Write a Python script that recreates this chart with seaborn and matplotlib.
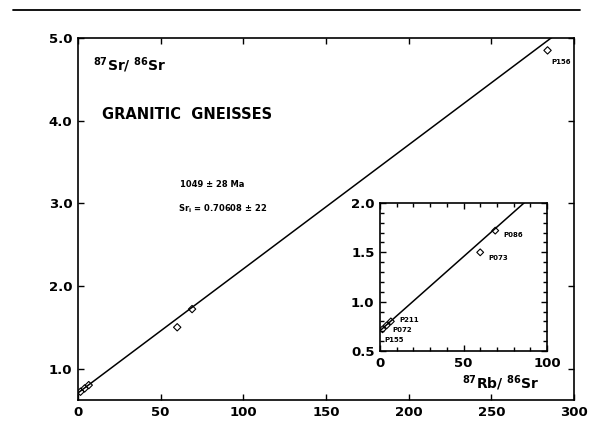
import matplotlib
matplotlib.use("Agg")
import matplotlib.pyplot as plt
import seaborn as sns
import pandas as pd
from matplotlib.lines import Line2D
from matplotlib.ticker import MultipleLocator

# ---- data ----
samples = ["P155", "P072", "P211", "P073", "P086", "P156"]
rb_sr = [1.5, 4.0, 6.5, 60.0, 69.0, 284.0]
sr_sr = [0.72, 0.76, 0.80, 1.50, 1.72, 4.85]
iso_x = [0.0, 300.0]
iso_y = [0.706, 5.208]
main_xticks = [0, 50, 100, 150, 200, 250, 300]
main_yticks = [1.0, 2.0, 3.0, 4.0, 5.0]
inset_xticks = [0, 50, 100]
inset_yticks = [0.5, 1.0, 1.5, 2.0]
main_labels = ["P156"]
inset_labels = ["P155", "P072", "P211", "P073", "P086"]
label_offsets = {"P156": (3, -8), "P086": (6, -3), "P073": (6, -4),
                 "P211": (6, 1), "P072": (4, -3), "P155": (1, -8)}

df = pd.DataFrame({"sample": samples, "rb": rb_sr, "sr": sr_sr})
line_df = pd.DataFrame({"x": iso_x, "y": iso_y})

sns.set_style("ticks")
plt.rcParams["font.family"] = ["DejaVu Sans"]
plt.rcParams["mathtext.fontset"] = "dejavusans"
plt.rcParams["text.color"] = "black"
plt.rcParams["xtick.color"] = "black"
plt.rcParams["ytick.color"] = "black"
plt.rcParams["xtick.labelcolor"] = "black"
plt.rcParams["ytick.labelcolor"] = "black"

fig = plt.figure(figsize=(5.93, 4.23), dpi=100)

# page rule at the top
fig.add_artist(Line2D([13 / 593, 580 / 593], [1 - 10 / 423, 1 - 10 / 423],
                      color="black", lw=1.3, transform=fig.transFigure))

ax = fig.add_axes([78 / 593, 23 / 423, 496 / 593, 362 / 423])
sns.lineplot(data=line_df, x="x", y="y", ax=ax, color="black", lw=1.1)
sns.scatterplot(data=df, x="rb", y="sr", ax=ax, marker="D", s=14,
                facecolor="none", edgecolor="black", linewidth=0.8)
ax.set_xlim(0, 300)
ax.set_ylim(0.62, 5.0)
ax.set_xticks(main_xticks)
ax.set_yticks(main_yticks)
ax.set_yticklabels([f"{v:.1f}" for v in main_yticks])
ax.tick_params(direction="in", length=4, width=1, top=True, right=True,
               labelsize=9.5, pad=4)
for lab in ax.get_xticklabels() + ax.get_yticklabels():
    lab.set_fontweight("bold")
for s in ax.spines.values():
    s.set_linewidth(1.2)
    s.set_color("black")
ax.set_xlabel("")
ax.set_ylabel("")

for name in main_labels:
    i = samples.index(name)
    ax.annotate(name, (rb_sr[i], sr_sr[i]), xytext=label_offsets[name],
                textcoords="offset points", fontsize=5, fontweight="bold",
                ha="left", va="center")

ax.text(0.03, 0.925, r"$^{\mathbf{87}}\mathbf{Sr/\ }^{\mathbf{86}}\mathbf{Sr}$",
        transform=ax.transAxes, fontsize=10, ha="left", va="center")
ax.text(0.048, 0.79, "GRANITIC  GNEISSES", transform=ax.transAxes,
        fontsize=10.5, fontweight="bold", ha="left", va="center")
ax.text(0.206, 0.594, "1049 ± 28 Ma", transform=ax.transAxes,
        fontsize=6, fontweight="bold", ha="left", va="center")
ax.text(0.202, 0.528, r"Sr$_\mathbf{i}$ = 0.70608 ± 22", transform=ax.transAxes,
        fontsize=6, fontweight="bold", ha="left", va="center")
fig.text(462 / 593, 1 - 383 / 423,
         r"$^{\mathbf{87}}\mathbf{Rb/\ }^{\mathbf{86}}\mathbf{Sr}$",
         fontsize=10, ha="left", va="center")

# inset
ins = fig.add_axes([380 / 593, 72 / 423, 167 / 593, 148 / 423])
sns.lineplot(data=line_df, x="x", y="y", ax=ins, color="black", lw=1.1)
sns.scatterplot(data=df, x="rb", y="sr", ax=ins, marker="D", s=12,
                facecolor="none", edgecolor="black", linewidth=0.8)
ins.set_xlim(0, 100)
ins.set_ylim(0.5, 2.0)
ins.set_xticks(inset_xticks)
ins.set_yticks(inset_yticks)
ins.set_yticklabels([f"{v:.1f}" for v in inset_yticks])
ins.xaxis.set_minor_locator(MultipleLocator(10))
ins.yaxis.set_minor_locator(MultipleLocator(0.1))
ins.tick_params(which="both", direction="in", top=True, right=True, width=1)
ins.tick_params(which="major", length=4, labelsize=9.5, pad=4)
ins.tick_params(which="minor", length=3)
for lab in ins.get_xticklabels() + ins.get_yticklabels():
    lab.set_fontweight("bold")
for s in ins.spines.values():
    s.set_linewidth(1.2)
    s.set_color("black")
ins.set_xlabel("")
ins.set_ylabel("")
for name in inset_labels:
    i = samples.index(name)
    ins.annotate(name, (rb_sr[i], sr_sr[i]), xytext=label_offsets[name],
                 textcoords="offset points", fontsize=5, fontweight="bold",
                 ha="left", va="center")

fig.savefig("out.png", dpi=100)
